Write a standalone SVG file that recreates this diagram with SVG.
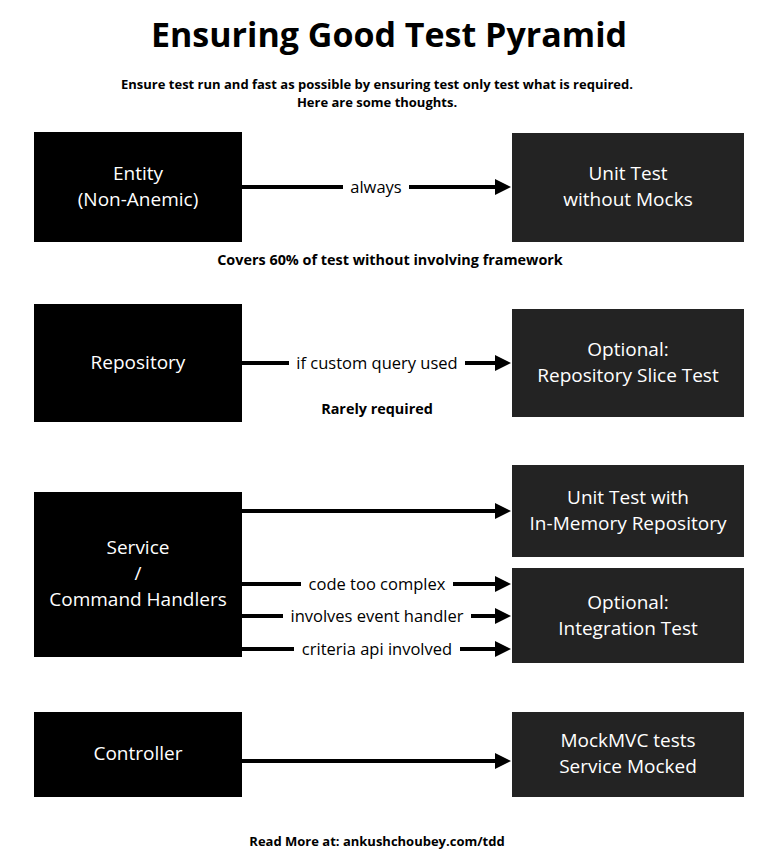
<svg xmlns="http://www.w3.org/2000/svg" width="779" height="861" viewBox="0 0 779 861">
<style>
.title{font-family:"Open Sans","Liberation Sans",sans-serif;font-weight:700;font-size:34px;fill:#000;text-anchor:middle}
.note{font-family:"Open Sans","Liberation Sans",sans-serif;font-weight:700;font-size:13px;fill:#000;text-anchor:middle}
.note2{font-family:"Open Sans","Liberation Sans",sans-serif;font-weight:700;font-size:14.4px;fill:#000;text-anchor:middle}
.src{fill:#000}
.dst{fill:#232323}
.nt{font-family:"Open Sans","Liberation Sans",sans-serif;font-size:19px;fill:#fff;text-anchor:middle}
.lbl{font-family:"Open Sans","Liberation Sans",sans-serif;font-size:16.5px;fill:#000;text-anchor:middle}
.edge{stroke:#000;stroke-width:4;fill:none}
.bg{fill:#fff}
</style>
<defs>
<marker id="ah" markerWidth="4" markerHeight="4" refX="0.5" refY="2" orient="auto" markerUnits="strokeWidth">
<path d="M0,0 L4,2 L0,4 Z" fill="#000"/>
</marker>
</defs>
<rect width="779" height="861" fill="#fff"/>
<text class="title" x="389" y="47">Ensuring Good Test Pyramid</text>
<text class="note" x="377" y="89">Ensure test run and fast as possible by ensuring test only test what is required.</text>
<text class="note" x="377" y="107">Here are some thoughts.</text>
<text class="note2" x="390" y="265">Covers 60% of test without involving framework</text>
<text class="note2" x="377" y="414">Rarely required</text>
<text class="note" x="377" y="846">Read More at: ankushchoubey.com/tdd</text>

<g id="connectors">
<line class="edge" x1="242" y1="187" x2="497" y2="187" marker-end="url(#ah)"/>
<rect class="bg" x="343" y="175" width="66" height="24"/>
<text class="lbl" x="376" y="193">always</text>
<line class="edge" x1="242" y1="363" x2="497" y2="363" marker-end="url(#ah)"/>
<rect class="bg" x="289" y="351" width="176" height="24"/>
<text class="lbl" x="377" y="369">if custom query used</text>
<line class="edge" x1="242" y1="511" x2="497" y2="511" marker-end="url(#ah)"/>
<line class="edge" x1="242" y1="584" x2="497" y2="584" marker-end="url(#ah)"/>
<rect class="bg" x="301" y="572" width="152" height="24"/>
<text class="lbl" x="377" y="590">code too complex</text>
<line class="edge" x1="242" y1="616" x2="497" y2="616" marker-end="url(#ah)"/>
<rect class="bg" x="283" y="604" width="188" height="24"/>
<text class="lbl" x="377" y="622">involves event handler</text>
<line class="edge" x1="242" y1="649" x2="497" y2="649" marker-end="url(#ah)"/>
<rect class="bg" x="294" y="637" width="166" height="24"/>
<text class="lbl" x="377" y="655">criteria api involved</text>
<line class="edge" x1="242" y1="761" x2="497" y2="761" marker-end="url(#ah)"/>
</g>

<g id="entity"><rect class="src" x="34" y="132" width="208" height="110"/>
<text class="nt" x="138" y="180">Entity</text><text class="nt" x="138" y="206">(Non-Anemic)</text></g>
<g id="unit-no-mocks"><rect class="dst" x="512" y="133" width="232" height="109"/>
<text class="nt" x="628" y="180">Unit Test</text><text class="nt" x="628" y="206">without Mocks</text></g>
<g id="repository"><rect class="src" x="34" y="304" width="208" height="118"/>
<text class="nt" x="138" y="369">Repository</text></g>
<g id="repo-slice"><rect class="dst" x="512" y="309" width="232" height="108"/>
<text class="nt" x="628" y="356">Optional:</text><text class="nt" x="628" y="382">Repository Slice Test</text></g>
<g id="service"><rect class="src" x="34" y="492" width="208" height="165"/>
<text class="nt" x="138" y="554">Service</text><text class="nt" x="138" y="580">/</text><text class="nt" x="138" y="606">Command Handlers</text></g>
<g id="unit-in-memory"><rect class="dst" x="512" y="465" width="232" height="92"/>
<text class="nt" x="628" y="504">Unit Test with</text><text class="nt" x="628" y="530">In-Memory Repository</text></g>
<g id="integration"><rect class="dst" x="512" y="568" width="232" height="95"/>
<text class="nt" x="628" y="609">Optional:</text><text class="nt" x="628" y="635">Integration Test</text></g>
<g id="controller"><rect class="src" x="34" y="712" width="208" height="85"/>
<text class="nt" x="138" y="760">Controller</text></g>
<g id="mockmvc"><rect class="dst" x="512" y="712" width="232" height="85"/>
<text class="nt" x="628" y="747">MockMVC tests</text><text class="nt" x="628" y="773">Service Mocked</text></g>
</svg>
